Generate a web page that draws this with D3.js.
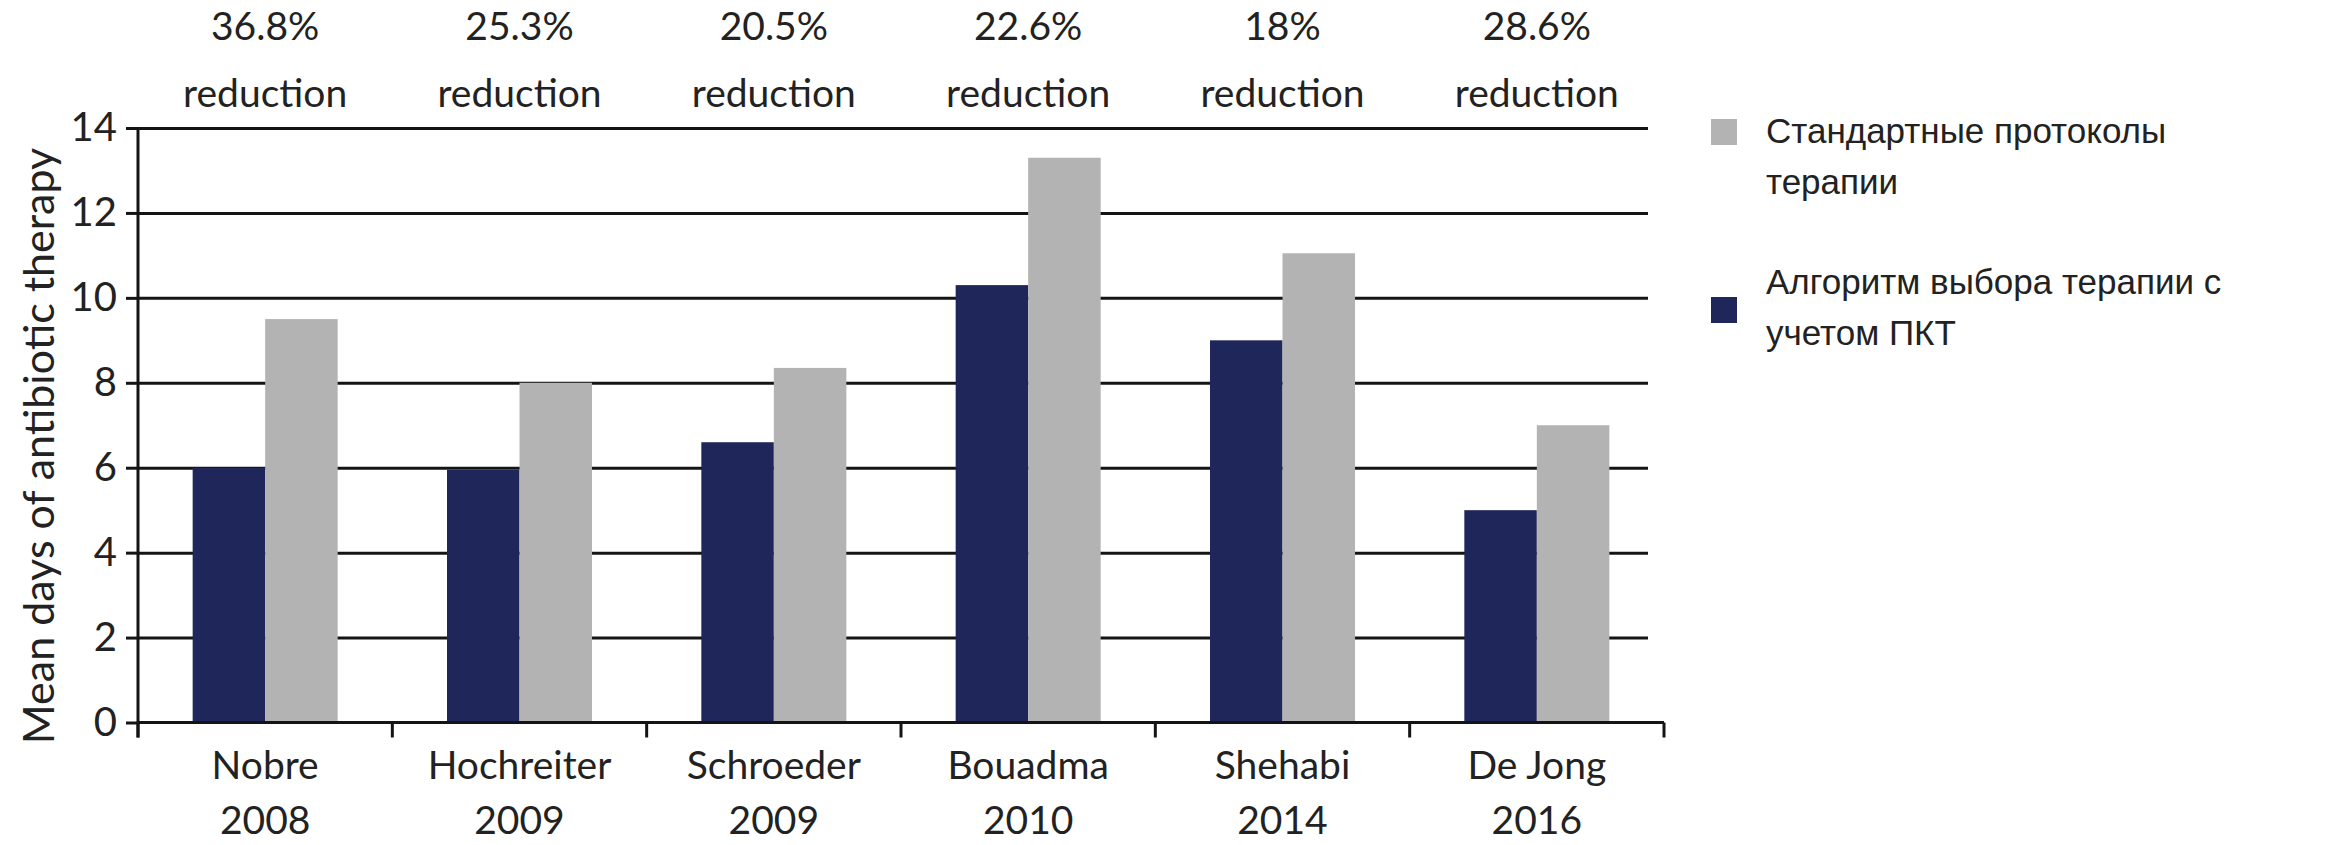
<!DOCTYPE html>
<html>
<head>
<meta charset="utf-8">
<script src="https://cdn.jsdelivr.net/npm/d3@7"></script>
<style>
  body { margin: 0; background: #fff; }
  .lbl { font-family: Lato, "Open Sans", sans-serif; fill: #222; }
  .legend-text { font-family: "Liberation Sans", Arial, sans-serif; fill: #222; }
</style>
</head>
<body>
<div id="chart"></div>
<script>
// data
var authors = ["Nobre", "Hochreiter", "Schroeder", "Bouadma", "Shehabi", "De Jong"];
var years = ["2008", "2009", "2009", "2010", "2014", "2016"];
var reductions = ["36.8%", "25.3%", "20.5%", "22.6%", "18%", "28.6%"];
var pctAlgorithm = [6.0, 5.95, 6.6, 10.3, 9.0, 5.0];
var standardCare = [9.5, 8.0, 8.35, 13.3, 11.05, 7.0];
var yTicks = [0, 2, 4, 6, 8, 10, 12, 14];
var seriesKeys = ["pct", "std"];
var seriesColors = ["#1f2659", "#b3b3b3"];
var legendLabels = [
    ["Стандартные протоколы", "терапии"],
    ["Алгоритм выбора терапии с", "учетом ПКТ"]
];
var yTitle = "Mean days of antibiotic therapy";

var width = 2331, height = 845;
var margin = { top: 128, left: 138, bottom: 845 - 722.5 };
var plotRight = 1664, gridRight = 1648;
var lineColor = "#141414";

var rows = authors.map(function(a, i) {
    return { author: a, year: years[i], reduction: reductions[i], pct: pctAlgorithm[i], std: standardCare[i] };
});

var svg = d3.select("#chart").append("svg")
    .attr("width", width)
    .attr("height", height);

var x0 = d3.scaleBand()
    .domain(authors)
    .range([margin.left, plotRight])
    .padding(0);

var x1 = d3.scaleBand()
    .domain(seriesKeys)
    .range([0, x0.bandwidth()])
    .paddingInner(0)
    .paddingOuter(0.754);

var y = d3.scaleLinear()
    .domain([0, 14])
    .range([722.5, margin.top]);

var color = d3.scaleOrdinal().domain(seriesKeys).range(seriesColors);

// gridlines
var grid = svg.append("g")
    .attr("transform", "translate(" + margin.left + ",0)")
    .call(d3.axisLeft(y).tickValues(yTicks.slice(1)).tickSize(-(gridRight - margin.left)).tickFormat(""));
grid.select(".domain").remove();
grid.selectAll("line").attr("stroke", lineColor).attr("stroke-width", 3);

// bars
var groups = svg.append("g").selectAll("g")
    .data(rows)
    .enter().append("g")
    .attr("transform", function(d) { return "translate(" + x0(d.author) + ",0)"; });

groups.selectAll("rect")
    .data(function(d) { return seriesKeys.map(function(k) { return { key: k, value: d[k] }; }); })
    .enter().append("rect")
    .attr("x", function(d) { return x1(d.key); })
    .attr("width", x1.bandwidth())
    .attr("y", function(d) { return y(d.value); })
    .attr("height", function(d) { return y(0) - y(d.value); })
    .attr("fill", function(d) { return color(d.key); });

// y axis
var yAxis = svg.append("g")
    .attr("transform", "translate(" + margin.left + ",0)")
    .call(d3.axisLeft(y).tickValues(yTicks).tickSize(12).tickPadding(9));
yAxis.select(".domain").attr("stroke", lineColor).attr("stroke-width", 3)
    .attr("d", "M0," + y(14) + "V" + (y(0) + 15));
yAxis.selectAll("line").attr("stroke", lineColor).attr("stroke-width", 3);
yAxis.selectAll("text")
    .attr("class", "lbl")
    .style("font-size", "40px")
    .attr("fill", "#222");

// x axis line + boundary ticks
var xAxis = svg.append("g");
xAxis.append("line")
    .attr("x1", margin.left).attr("x2", plotRight)
    .attr("y1", y(0)).attr("y2", y(0))
    .attr("stroke", lineColor).attr("stroke-width", 3);
var bounds = authors.map(function(a) { return x0(a); }).concat([x0.range()[1]]);
xAxis.selectAll(".xtick")
    .data(bounds)
    .enter().append("line")
    .attr("class", "xtick")
    .attr("x1", function(d) { return d; }).attr("x2", function(d) { return d; })
    .attr("y1", y(0)).attr("y2", y(0) + 15)
    .attr("stroke", lineColor).attr("stroke-width", 3);

// category labels (two lines)
var catLabels = svg.append("g").selectAll("text")
    .data(rows)
    .enter().append("text")
    .attr("class", "lbl")
    .attr("text-anchor", "middle")
    .style("font-size", "39px");
catLabels.append("tspan")
    .attr("x", function(d) { return x0(d.author) + x0.bandwidth() / 2; })
    .attr("y", 779)
    .text(function(d) { return d.author; });
catLabels.append("tspan")
    .attr("x", function(d) { return x0(d.author) + x0.bandwidth() / 2; })
    .attr("y", 834)
    .text(function(d) { return d.year; });

// reduction labels above plot
var redLabels = svg.append("g").selectAll("text")
    .data(rows)
    .enter().append("text")
    .attr("class", "lbl")
    .attr("text-anchor", "middle")
    .style("font-size", "39px");
redLabels.append("tspan")
    .attr("x", function(d) { return x0(d.author) + x0.bandwidth() / 2; })
    .attr("y", 40)
    .text(function(d) { return d.reduction; });
redLabels.append("tspan")
    .attr("x", function(d) { return x0(d.author) + x0.bandwidth() / 2; })
    .attr("y", 107)
    .text("reduction");

// y axis title
svg.append("text")
    .attr("class", "lbl")
    .attr("text-anchor", "middle")
    .style("font-size", "43px")
    .attr("transform", "translate(54,446) rotate(-90)")
    .text(yTitle);

// legend
var legend = svg.append("g").attr("transform", "translate(1711,0)");
var legendRows = [
    { key: "std", boxY: 119, lines: legendLabels[0], baseY: 143 },
    { key: "pct", boxY: 297, lines: legendLabels[1], baseY: 294 }
];
legendRows.forEach(function(r) {
    legend.append("rect")
        .attr("x", 0).attr("y", r.boxY)
        .attr("width", 26).attr("height", 26)
        .attr("fill", color(r.key));
    var t = legend.append("text")
        .attr("class", "legend-text")
        .style("font-size", "35px");
    r.lines.forEach(function(line, i) {
        t.append("tspan")
            .attr("x", 55)
            .attr("y", r.baseY + i * 51)
            .text(line);
    });
});
</script>
</body>
</html>
